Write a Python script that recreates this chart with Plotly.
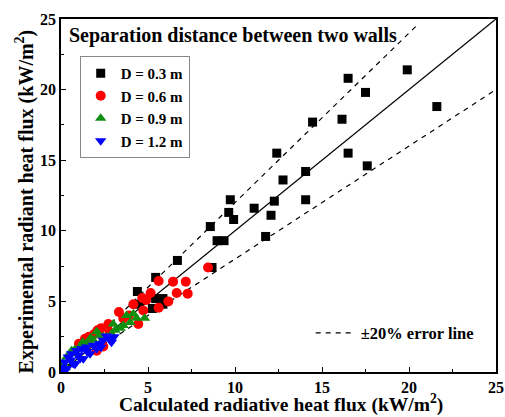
import plotly.graph_objects as go

# D = 0.3 m
x_03 = [19.9, 16.5, 17.5, 21.6, 16.15, 14.46, 16.5, 17.6, 12.4, 14.06, 12.76, 14.06, 12.26, 12.07, 11.1, 11.76,
        9.73, 9.64, 9.92, 8.58, 8.97, 9.37, 8.68, 6.69, 5.44, 4.39, 5.44, 5.86, 5.25, 5.86, 4.5]
y_03 = [21.4, 20.8, 19.8, 18.8, 17.9, 17.7, 15.5, 14.6, 15.5, 14.2, 13.6, 12.2, 12.1, 11.1, 11.6, 9.6,
        12.2, 11.3, 10.8, 10.3, 9.3, 9.3, 7.4, 7.9, 6.7, 5.7, 5.2, 5.2, 4.5, 4.8, 4.8]
# D = 0.6 m
x_06 = [8.45, 5.61, 6.44, 7.17, 6.65, 7.28, 6.17, 5.61, 5.15, 4.67, 4.16, 4.73, 3.33, 3.58, 4.44, 2.72,
        2.3, 1.93, 1.38, 1.03, 2.05, 2.43, 2.8, 3.9, 4.9, 1.6, 2.1]
y_06 = [7.4, 6.45, 6.4, 6.4, 5.6, 5.55, 5.0, 4.55, 5.6, 5.24, 4.8, 4.35, 4.25, 3.8, 3.4, 3.4,
        3.1, 2.7, 2.35, 2.0, 1.5, 1.8, 2.8, 4.0, 5.1, 2.5, 2.95]
# D = 0.9 m
x_09 = [4.8, 4.35, 3.97, 3.58, 3.1, 3.0, 3.77, 2.43, 2.05, 1.47, 1.09, 0.61, 0.33, 0.9, 0.13, 1.86, 2.62, 4.16,
        2.9, 3.4, 1.7, 2.2, 0.5, 1.25, 0.8, 0.25]
y_09 = [3.8, 3.8, 3.5, 3.3, 2.95, 3.4, 4.0, 2.5, 2.85, 2.0, 1.77, 1.5, 1.06, 1.3, 0.6, 2.25, 2.48, 4.13,
        2.7, 3.1, 2.4, 2.6, 0.9, 2.1, 1.6, 0.3]
# D = 1.2 m
x_12 = [2.82, 2.43, 2.24, 1.86, 1.47, 1.19, 0.9, 0.61, 0.42, 0.23, 0.04, 1.28, 1.67, 2.05, 0.7, 0.33,
        2.6, 1.0, 0.55, 1.5, 2.9, 0.15, 3.05, 2.3, 1.1, 0.8]
y_12 = [2.36, 2.24, 2.0, 1.9, 1.77, 1.65, 1.53, 1.3, 1.06, 0.7, 0.35, 0.94, 1.3, 1.65, 0.6, 0.24,
        2.55, 1.2, 0.85, 1.45, 2.1, 0.1, 2.5, 1.75, 0.95, 0.55]

# reference lines
line_x = [0, 25]
line_y = [0, 25]
upper_x = [0, 20.5]
upper_y = [0, 24.6]
lower_x = [0, 25]
lower_y = [0, 20]

FONT = '"Liberation Serif", "Times New Roman", Times, serif'

fig = go.Figure()

fig.add_trace(go.Scatter(x=line_x, y=line_y, mode="lines", line=dict(color="black", width=1.3),
                         showlegend=False, hoverinfo="skip"))
fig.add_trace(go.Scatter(x=upper_x, y=upper_y, mode="lines", line=dict(color="black", width=1.2, dash="5px,5px"),
                         showlegend=False, hoverinfo="skip"))
fig.add_trace(go.Scatter(x=lower_x, y=lower_y, mode="lines", line=dict(color="black", width=1.2, dash="5px,5px"),
                         name="±20% error line", legend="legend2", showlegend=True, hoverinfo="skip"))

fig.add_trace(go.Scatter(x=x_03, y=y_03, mode="markers", name="D = 0.3 m",
                         marker=dict(symbol="square", size=9, color="black")))
fig.add_trace(go.Scatter(x=x_06, y=y_06, mode="markers", name="D = 0.6 m",
                         marker=dict(symbol="circle", size=10, color="red")))
fig.add_trace(go.Scatter(x=x_09, y=y_09, mode="markers", name="D = 0.9 m",
                         marker=dict(symbol="triangle-up", size=10, color="#109010")))
fig.add_trace(go.Scatter(x=x_12, y=y_12, mode="markers", name="D = 1.2 m",
                         marker=dict(symbol="triangle-down", size=10, color="#0000ff")))

axis_common = dict(
    range=[0, 25], tickvals=[0, 5, 10, 15, 20, 25], ticks="inside", ticklen=5, tickwidth=1,
    tickcolor="black", showline=True, linecolor="black", linewidth=1.5, mirror=True,
    showgrid=False, zeroline=False, automargin=False,
    minor=dict(tickvals=[2.5, 7.5, 12.5, 17.5, 22.5], ticks="inside", ticklen=3, tickcolor="black"),
    tickfont=dict(family=FONT, size=16, color="black", weight="bold"),
)

fig.update_layout(
    width=505, height=417,
    margin=dict(l=61, r=9, t=19, b=45),
    plot_bgcolor="white", paper_bgcolor="white",
    font=dict(family=FONT, color="black"),
    xaxis=dict(**axis_common),
    yaxis=dict(**axis_common),
    legend=dict(x=0.043, y=0.895, xanchor="left", yanchor="top",
                bordercolor="#888888", borderwidth=1, bgcolor="white",
                font=dict(family=FONT, size=15, weight="bold"),
                itemwidth=30, tracegroupgap=0),
    legend2=dict(x=0.574, y=0.11, xanchor="left", yanchor="middle",
                 bgcolor="rgba(0,0,0,0)", borderwidth=0,
                 font=dict(family=FONT, size=16.5, weight="bold"), itemwidth=40),
    annotations=[
        dict(text="Separation distance between two walls", xref="paper", yref="paper",
             x=0.013, y=0.953, xanchor="left", yanchor="middle", showarrow=False,
             font=dict(family=FONT, size=20, weight="bold")),
        dict(text="Experimental radiant heat flux (kW/m<sup>2</sup>)", xref="paper", yref="paper",
             x=-0.083, y=0.483, xanchor="center", yanchor="middle", textangle=-90, showarrow=False,
             font=dict(family=FONT, size=20, weight="bold")),
        dict(text="Calculated radiative heat flux (kW/m<sup>2</sup>)", xref="paper", yref="paper",
             x=0.506, y=-0.1285, xanchor="center", yanchor="bottom", showarrow=False, borderpad=0,
             font=dict(family=FONT, size=19.5, weight="bold")),
    ],
)

fig.write_html("out.html")
